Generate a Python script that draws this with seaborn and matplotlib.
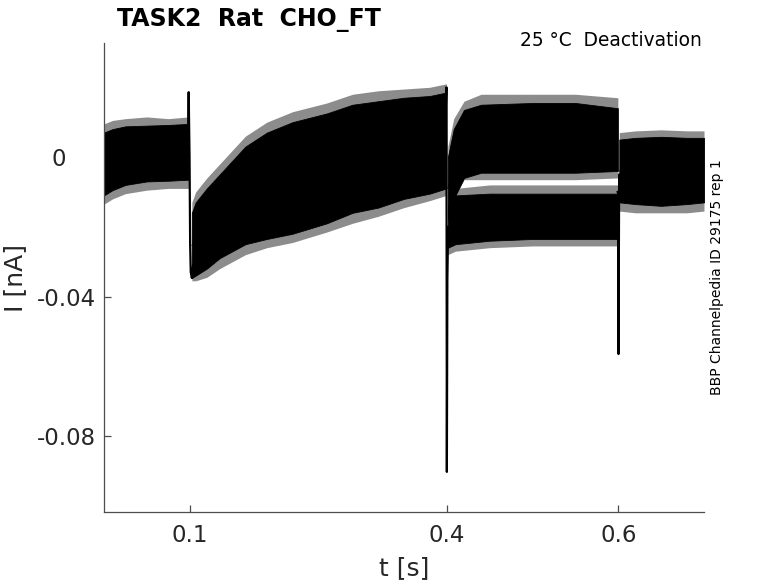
import numpy as np
import pandas as pd
import matplotlib
matplotlib.use("Agg")
import matplotlib.pyplot as plt
import matplotlib.transforms as mtransforms
import seaborn as sns

# ---- data (current envelopes of the sweep bundle, nA) ----
# dense core of the traces
base_t  = [0.000, 0.010, 0.025, 0.050, 0.075, 0.0985]
base_hi = [0.0070, 0.0080, 0.0088, 0.0090, 0.0092, 0.0095]
base_lo = [-0.0110, -0.0095, -0.0080, -0.0070, -0.0068, -0.0065]
# outermost noise peaks
base_pk_hi = [0.0095, 0.0105, 0.0110, 0.0115, 0.0110, 0.0115]
base_pk_lo = [-0.0135, -0.0120, -0.0105, -0.0095, -0.0090, -0.0090]

act_t  = [0.1025, 0.107, 0.120, 0.135, 0.150, 0.165, 0.190, 0.220, 0.260, 0.290, 0.320, 0.350, 0.380, 0.3995]
act_hi = [-0.016, -0.013, -0.009, -0.005, -0.001, 0.003, 0.007, 0.010, 0.0125, 0.015, 0.016, 0.017, 0.0175, 0.0185]
act_lo = [-0.0347, -0.034, -0.032, -0.029, -0.027, -0.025, -0.0235, -0.022, -0.019, -0.016, -0.0145, -0.012, -0.0105, -0.009]
act_pk_hi = [-0.013, -0.010, -0.006, -0.002, 0.002, 0.006, 0.010, 0.013, 0.0155, 0.018, 0.019, 0.0195, 0.020, 0.021]
act_pk_lo = [-0.0355, -0.0355, -0.0345, -0.032, -0.030, -0.028, -0.026, -0.0245, -0.0215, -0.019, -0.017, -0.0145, -0.0125, -0.011]

tailA_t  = [0.4012, 0.408, 0.420, 0.440, 0.500, 0.550, 0.5995]
tailA_hi = [0.000, 0.008, 0.0135, 0.015, 0.0155, 0.0155, 0.014]
tailA_lo = [-0.018, -0.012, -0.006, -0.0045, -0.0045, -0.0045, -0.0040]
tailA_pk_hi = [0.003, 0.011, 0.016, 0.018, 0.018, 0.018, 0.017]
tailA_pk_lo = [-0.018, -0.012, -0.0065, -0.0065, -0.0065, -0.0065, -0.0060]

tailB_t  = [0.4012, 0.410, 0.450, 0.500, 0.550, 0.5995]
tailB_hi = [-0.014, -0.011, -0.0105, -0.0105, -0.0105, -0.0105]
tailB_lo = [-0.026, -0.025, -0.024, -0.0235, -0.0235, -0.0235]
tailB_pk_hi = [-0.012, -0.009, -0.008, -0.008, -0.008, -0.008]
tailB_pk_lo = [-0.028, -0.027, -0.026, -0.0255, -0.0255, -0.0255]

post_t  = [0.6012, 0.620, 0.650, 0.680, 0.700]
post_hi = [0.0050, 0.0055, 0.0058, 0.0055, 0.0055]
post_lo = [-0.0130, -0.0135, -0.0140, -0.0135, -0.0130]
post_pk_hi = [0.0070, 0.0075, 0.0078, 0.0075, 0.0075]
post_pk_lo = [-0.0155, -0.0160, -0.0160, -0.0160, -0.0155]

spike1_t = [0.0980, 0.0988, 0.0998, 0.1005, 0.1012, 0.1025, 0.1040]
spike1_I = [0.006, 0.0186, 0.000, -0.025, -0.033, -0.0347, -0.031]
spike2_t = [0.3985, 0.3995, 0.4000, 0.4006, 0.4015]
spike2_I = [0.012, 0.020, -0.0903, -0.035, -0.020]
spike3_t = [0.5990, 0.5998, 0.6003, 0.6010]
spike3_I = [-0.010, -0.010, -0.0565, -0.005]

x_ticks = [0.1, 0.4, 0.6]
x_ticklabels = ["0.1", "0.4", "0.6"]
y_ticks = [-0.08, -0.04, 0.0]
y_ticklabels = ["-0.08", "-0.04", "0"]

title_text = "TASK2  Rat  CHO_FT"
cond_text = "25 °C  Deactivation"
id_text = "BBP Channelpedia ID 29175 rep 1"

# ---- build tables ----
def band_table(specs):
    rows = []
    for name, t, hi, lo in specs:
        for ti, h, l in zip(t, hi, lo):
            rows.append({"t": ti, "I": h, "seg": name})
            rows.append({"t": ti, "I": l, "seg": name})
    return pd.DataFrame(rows)

core = band_table([("base", base_t, base_hi, base_lo),
                   ("act", act_t, act_hi, act_lo),
                   ("tailA", tailA_t, tailA_hi, tailA_lo),
                   ("tailB", tailB_t, tailB_hi, tailB_lo),
                   ("post", post_t, post_hi, post_lo)])
peaks = band_table([("base", base_t, base_pk_hi, base_pk_lo),
                    ("act", act_t, act_pk_hi, act_pk_lo),
                    ("tailA", tailA_t, tailA_pk_hi, tailA_pk_lo),
                    ("tailB", tailB_t, tailB_pk_hi, tailB_pk_lo),
                    ("post", post_t, post_pk_hi, post_pk_lo)])

spk_rows = []
for name, t, v in [("s1", spike1_t, spike1_I), ("s2", spike2_t, spike2_I), ("s3", spike3_t, spike3_I)]:
    for ti, vi in zip(t, v):
        spk_rows.append({"t": ti, "I": vi, "seg": name})
spikes = pd.DataFrame(spk_rows)

sns.set_theme(style="white")
plt.rcParams["font.family"] = ["DejaVu Sans"]

fig = plt.figure(figsize=(7.78, 5.83), dpi=100)
ax = fig.add_axes([104 / 778, 1 - 512 / 583, 600 / 778, 469 / 583])

fringe = "#8c8c8c"
pal_p = {k: fringe for k in peaks["seg"].unique()}
sns.lineplot(data=peaks, x="t", y="I", hue="seg", palette=pal_p, estimator="mean",
             errorbar=("pi", 100), err_kws={"alpha": 1, "linewidth": 0},
             linewidth=0, legend=False, ax=ax)
pal_b = {k: "black" for k in core["seg"].unique()}
sns.lineplot(data=core, x="t", y="I", hue="seg", palette=pal_b, estimator="mean",
             errorbar=("pi", 100), err_kws={"alpha": 1, "linewidth": 0.6, "edgecolor": "black"},
             linewidth=0.6, legend=False, ax=ax)
pal_s = {k: "black" for k in spikes["seg"].unique()}
sns.lineplot(data=spikes, x="t", y="I", hue="seg", palette=pal_s, estimator=None,
             sort=False, linewidth=1.6, legend=False, ax=ax)

ax.set_xlim(0, 0.7)
ax.set_ylim(-0.1018, 0.0327)
ax.set_xticks(x_ticks)
ax.set_xticklabels(x_ticklabels)
ax.set_yticks(y_ticks)
ax.set_yticklabels(y_ticklabels, ha="center")

for s in ["top", "right"]:
    ax.spines[s].set_visible(False)
for s in ["left", "bottom"]:
    ax.spines[s].set_color("#4d4d4d")
    ax.spines[s].set_linewidth(0.9)

ax.tick_params(axis="both", which="major", direction="in", length=5, width=0.9,
               color="#4d4d4d", labelsize=16.5, labelcolor="#262626",
               bottom=True, left=True, top=False, right=False)
ax.tick_params(axis="x", pad=9)
ax.tick_params(axis="y", pad=27)

# the "0" label sits a little further left in the reference
for lbl in ax.get_yticklabels():
    if lbl.get_text() == "0":
        lbl.set_transform(lbl.get_transform() +
                          mtransforms.ScaledTranslation(-8 / 100, 0, fig.dpi_scale_trans))

ax.set_xlabel("t [s]", fontsize=18, color="#262626", labelpad=6)
ax.set_ylabel("I [nA]", fontsize=18, color="#262626", labelpad=7)

fig.text(117 / 778, 1 - 26 / 583, title_text, fontsize=17, fontweight="bold",
         ha="left", va="baseline", color="black")
fig.text(702 / 778, 1 - 40 / 583, cond_text, fontsize=13.4, ha="right", va="center",
         color="black")
fig.text(717 / 778, 1 - 277 / 583, id_text, fontsize=10, rotation=90, ha="center",
         va="center", color="black")

fig.savefig("out.png", dpi=100)
